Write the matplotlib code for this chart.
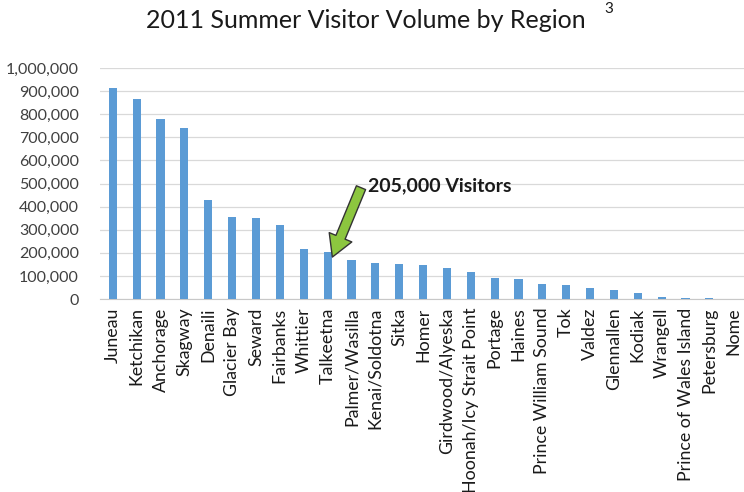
import matplotlib
matplotlib.use("Agg")
import matplotlib.pyplot as plt
from matplotlib.patches import Rectangle
from matplotlib.ticker import FuncFormatter

regions = ["Juneau", "Ketchikan", "Anchorage", "Skagway", "Denaili", "Glacier Bay",
           "Seward", "Fairbanks", "Whittier", "Talkeetna", "Palmer/Wasilla",
           "Kenai/Soldotna", "Sitka", "Homer", "Girdwood/Alyeska",
           "Hoonah/Icy Strait Point", "Portage", "Haines", "Prince William Sound",
           "Tok", "Valdez", "Glennallen", "Kodiak", "Wrangell",
           "Prince of Wales Island", "Petersburg", "Nome"]
visitors = [914000, 864000, 781000, 740000, 429000, 354000, 351000, 320000,
            216000, 205000, 168000, 158000, 151000, 146000, 136000, 119000,
            93000, 88000, 64000, 60000, 49000, 41000, 25000, 10000, 7000, 6000, 0]
y_ticks = [0, 100000, 200000, 300000, 400000, 500000, 600000, 700000, 800000,
           900000, 1000000]

plt.rcParams['font.family'] = ['Lato', 'DejaVu Sans']

fig = plt.figure(figsize=(7.44, 4.92), dpi=100)
ax = fig.add_axes([0.134, 0.392, 0.866, 0.470])

x = range(len(regions))
ax.bar(x, visitors, width=0.34, color='#5b9bd5', zorder=3)

ax.set_ylim(0, 1000000)
ax.set_xlim(-0.55, 26.45)
ax.set_yticks(y_ticks)
ax.yaxis.set_major_formatter(FuncFormatter(lambda v, p: f"{int(v):,}"))
ax.set_xticks(list(x))
ax.set_xticklabels(regions, rotation=90, fontsize=12.8, color='#1a1a1a')
ax.tick_params(axis='y', labelsize=11.5, labelcolor='#404040', length=0, pad=15)
ax.tick_params(axis='x', length=0, pad=6)

ax.grid(axis='y', color='#d9d9d9', linewidth=0.9, zorder=0)
for side in ['top', 'right', 'left']:
    ax.spines[side].set_visible(False)
ax.spines['bottom'].set_color('#c8c8c8')

# white label box hiding the grid behind the annotation
ax.add_patch(Rectangle((9.85, 350000), 9.45, 290000, facecolor='white',
                       edgecolor='none', zorder=1))

ax.text(10.7, 492000, "205,000 Visitors", fontsize=14, fontweight='bold',
        color='#1a1a1a', va='center', ha='left', zorder=4)
ax.annotate("", xy=(9.2, 182000), xytext=(10.4, 482000),
            arrowprops=dict(arrowstyle="simple,head_width=1.6,head_length=1.4,tail_width=0.65",
                            mutation_scale=11, facecolor='#8cc63f',
                            edgecolor='#333333', linewidth=1.0,
                            shrinkA=0, shrinkB=0),
            zorder=5)

fig.text(0.492, 0.958, "2011 Summer Visitor Volume by Region", fontsize=18,
         ha='center', va='center', color='#1a1a1a')
fig.text(0.812, 0.981, "3", fontsize=11, ha='left', va='center', color='#1a1a1a')

fig.savefig("out.png", dpi=100)
